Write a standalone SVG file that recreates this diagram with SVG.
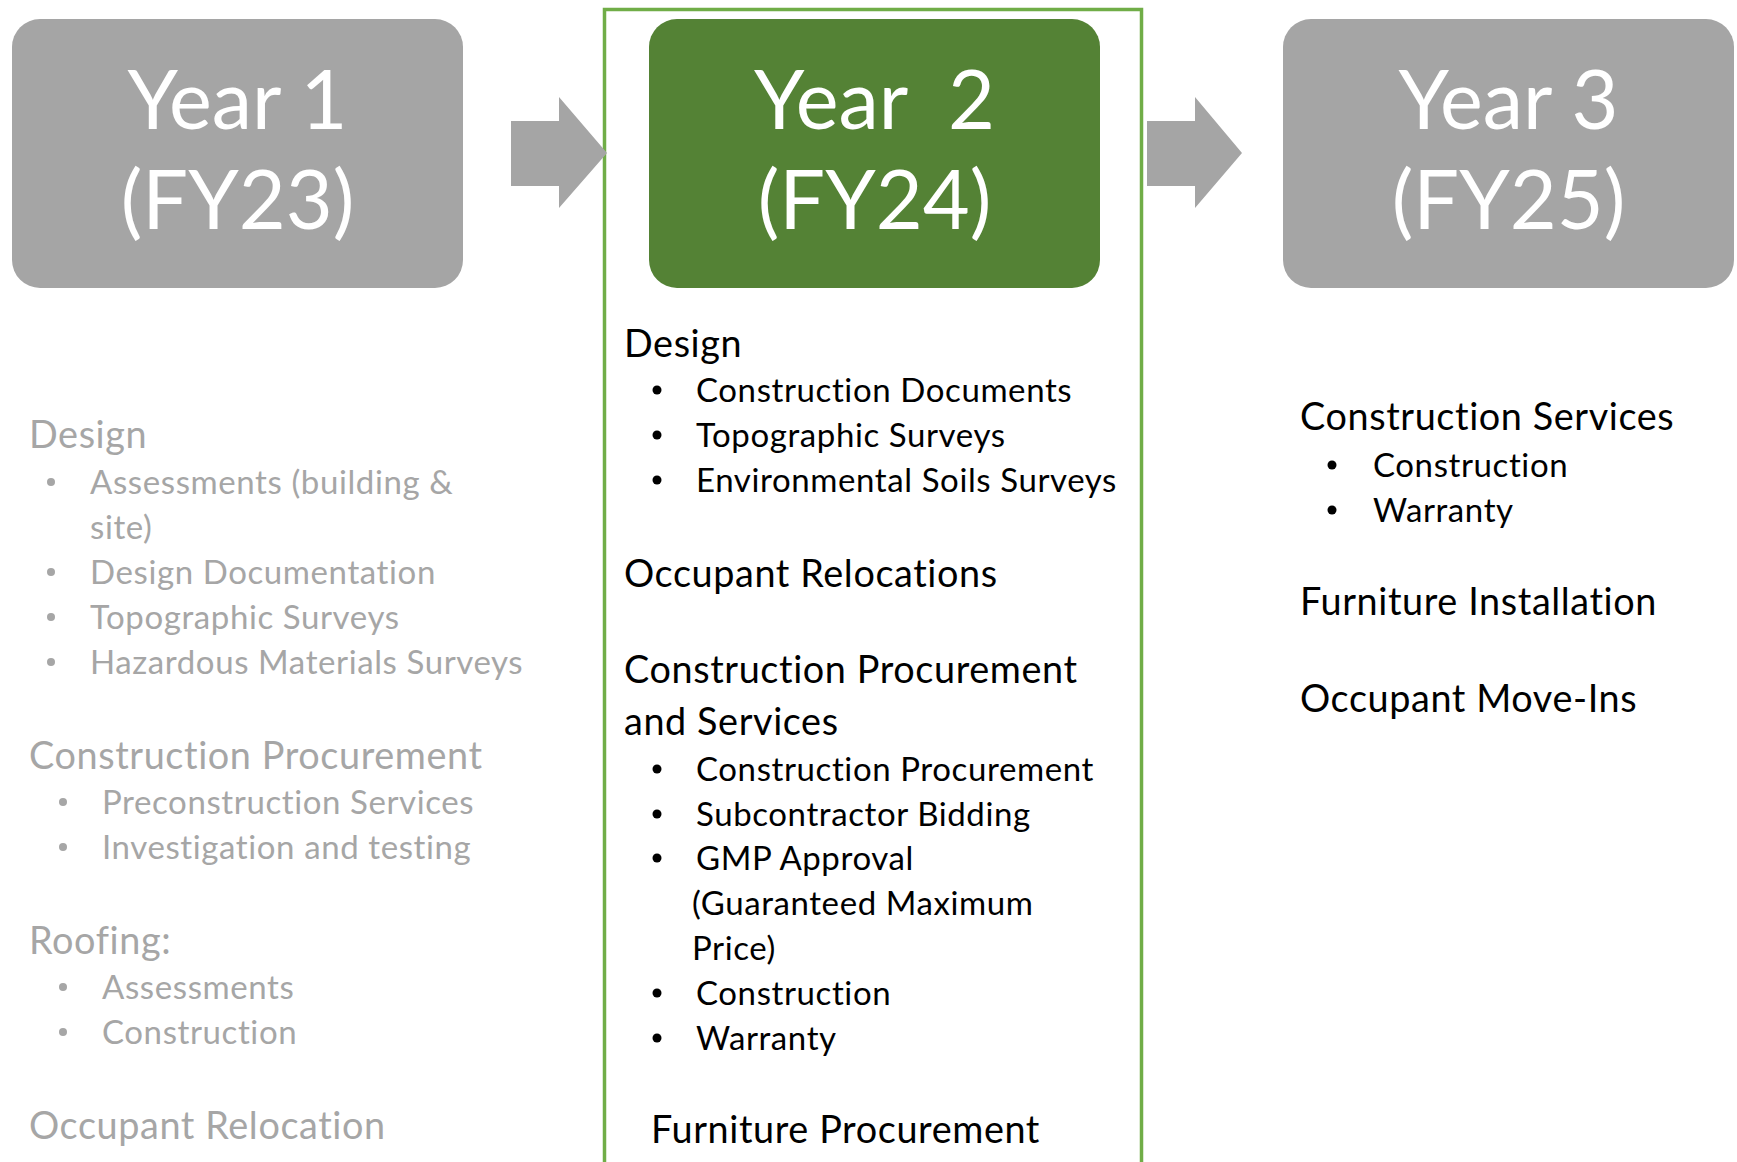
<svg xmlns="http://www.w3.org/2000/svg" width="1737" height="1162" viewBox="0 0 1737 1162">
<style>
.title{font-family:Lato,"Open Sans","Liberation Sans",sans-serif;font-size:81px;fill:#FFFFFF;text-anchor:middle}
.h{font-family:Lato,"Open Sans","Liberation Sans",sans-serif;font-size:37.8px;letter-spacing:0.6px}
.i{font-family:Lato,"Open Sans","Liberation Sans",sans-serif;font-size:33px;letter-spacing:0.6px}
.gray{fill:#A6A6A6}
.blk{fill:#000000}
.graybox{fill:#A5A5A5}
.greenbox{fill:#548235}
.arrow{fill:#A5A5A5}
</style>
<rect width="1737" height="1162" fill="#FFFFFF"/>
<g id="year2-frame">
<rect x="604.5" y="9.5" width="537" height="1160" fill="none" stroke="#70AD47" stroke-width="3.5"/>
</g>
<g id="connectors">
<path class="arrow" d="M511 121 H559 V97 L607 153 L559 208 V186 H511 Z"/>
<path class="arrow" d="M1147 121 H1195 V97 L1242 153 L1195 208 V186 H1147 Z"/>
</g>
<g id="year1">
<rect class="graybox" x="12" y="19" width="451" height="269" rx="28"/>
<text class="title" x="237.5" y="129">Year 1</text>
<text class="title" x="237.5" y="229">(FY23)</text>
</g>
<g id="year2">
<rect class="greenbox" x="649" y="19" width="451" height="269" rx="28"/>
<text class="title" x="874.5" y="129" xml:space="preserve">Year  2</text>
<text class="title" x="874.5" y="229">(FY24)</text>
</g>
<g id="year3">
<rect class="graybox" x="1283" y="19" width="451" height="269" rx="28"/>
<text class="title" x="1508.5" y="129">Year 3</text>
<text class="title" x="1508.5" y="229">(FY25)</text>
</g>
<g id="year1-tasks" class="gray">
<text class="h gray" x="29" y="448">Design</text>
<circle cx="51" cy="482" r="4"/><text class="i gray" x="90" y="494">Assessments (building &amp;</text>
<text class="i gray" x="90" y="539">site)</text>
<circle cx="51" cy="572" r="4"/><text class="i gray" x="90" y="584">Design Documentation</text>
<circle cx="51" cy="617" r="4"/><text class="i gray" x="90" y="629">Topographic Surveys</text>
<circle cx="51" cy="662" r="4"/><text class="i gray" x="90" y="674">Hazardous Materials Surveys</text>
<text class="h gray" x="29" y="769">Construction Procurement</text>
<circle cx="63" cy="802" r="4"/><text class="i gray" x="102" y="814">Preconstruction Services</text>
<circle cx="63" cy="847" r="4"/><text class="i gray" x="102" y="859">Investigation and testing</text>
<text class="h gray" x="29" y="954">Roofing:</text>
<circle cx="63" cy="987" r="4"/><text class="i gray" x="102" y="999">Assessments</text>
<circle cx="63" cy="1032" r="4"/><text class="i gray" x="102" y="1044">Construction</text>
<text class="h gray" x="29" y="1139">Occupant Relocation</text>
</g>
<g id="year2-tasks" class="blk">
<text class="h blk" x="624" y="357">Design</text>
<circle cx="657" cy="390" r="4.5"/><text class="i blk" x="696" y="402">Construction Documents</text>
<circle cx="657" cy="435" r="4.5"/><text class="i blk" x="696" y="447">Topographic Surveys</text>
<circle cx="657" cy="480" r="4.5"/><text class="i blk" x="696" y="492">Environmental Soils Surveys</text>
<text class="h blk" x="624" y="587">Occupant Relocations</text>
<text class="h blk" x="624" y="683">Construction Procurement</text>
<text class="h blk" x="624" y="735">and Services</text>
<circle cx="657" cy="769" r="4.5"/><text class="i blk" x="696" y="781">Construction Procurement</text>
<circle cx="657" cy="814" r="4.5"/><text class="i blk" x="696" y="826">Subcontractor Bidding</text>
<circle cx="657" cy="858" r="4.5"/><text class="i blk" x="696" y="870">GMP Approval</text>
<text class="i blk" x="692" y="915">(Guaranteed Maximum</text>
<text class="i blk" x="692" y="960">Price)</text>
<circle cx="657" cy="993" r="4.5"/><text class="i blk" x="696" y="1005">Construction</text>
<circle cx="657" cy="1038" r="4.5"/><text class="i blk" x="696" y="1050">Warranty</text>
<text class="h blk" x="651" y="1143">Furniture Procurement</text>
</g>
<g id="year3-tasks" class="blk">
<text class="h blk" x="1300" y="430">Construction Services</text>
<circle cx="1332" cy="465" r="4.5"/><text class="i blk" x="1373" y="477">Construction</text>
<circle cx="1332" cy="510" r="4.5"/><text class="i blk" x="1373" y="522">Warranty</text>
<text class="h blk" x="1300" y="615">Furniture Installation</text>
<text class="h blk" x="1300" y="712">Occupant Move-Ins</text>
</g>
</svg>
